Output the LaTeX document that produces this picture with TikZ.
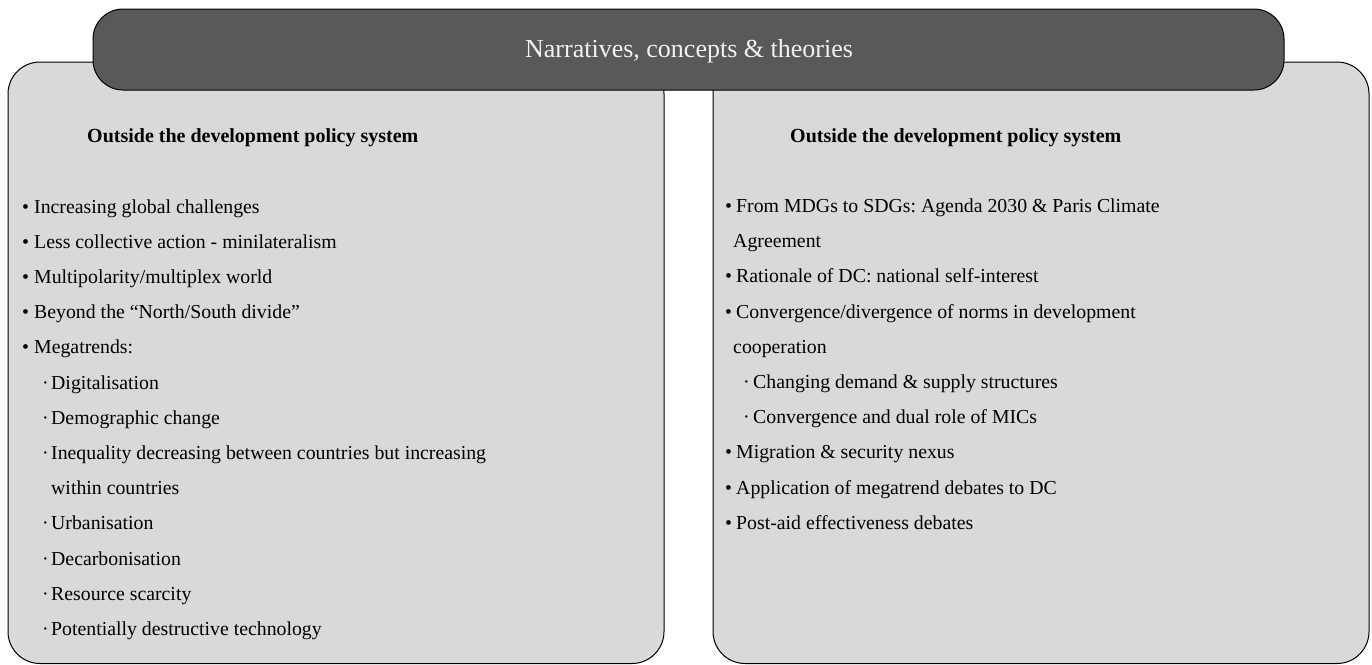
\documentclass[tikz,border=0pt]{standalone}
\usepackage{fontspec}
\setmainfont{Liberation Serif}
\frenchspacing
\definecolor{bardark}{HTML}{595959}
\definecolor{boxgray}{HTML}{D9D9D9}
\definecolor{titletext}{HTML}{F2F2F2}
\begin{document}
\begin{tikzpicture}[x=1pt,y=-1pt,
  panel/.style={draw=black,line width=1pt,fill=boxgray,rounded corners=32pt},
  bar/.style={draw=black,line width=1pt,fill=bardark,rounded corners=30pt},
  txt/.style={anchor=base west,inner sep=0pt,font=\fontsize{19.8pt}{23pt}\selectfont},
  head/.style={anchor=base west,inner sep=0pt,font=\fontsize{20pt}{23pt}\selectfont\bfseries},
  ttl/.style={anchor=base,inner sep=0pt,text=titletext,font=\fontsize{26pt}{30pt}\selectfont}]
\useasboundingbox (0,0) rectangle (1372,664);
\draw[panel] (8,62) rectangle (664,663.5);
\draw[panel] (713,62) rectangle (1369,663.5);
\draw[bar] (93,9) rectangle (1284,90);
\node[ttl] (title) at (689,57) {Narratives, concepts \& theories};
% left panel
\node[head] (lhead) at (87,142) {Outside the development policy system};
\node[txt] (lb1) at (22,213) {•};
\node[txt] (l1) at (34,213) {Increasing global challenges};
\node[txt] (lb2) at (22,248.2) {•};
\node[txt] (l2) at (34,248.2) {Less collective action - minilateralism};
\node[txt] (lb3) at (22,283.4) {•};
\node[txt] (l3) at (34,283.4) {Multipolarity/multiplex world};
\node[txt] (lb4) at (22,318.6) {•};
\node[txt] (l4) at (34,318.6) {Beyond the “North/South divide”};
\node[txt] (lb5) at (22,353.8) {•};
\node[txt] (l5) at (34,353.8) {Megatrends:};
\node[txt] (ld1) at (42,389) {·};
\node[txt] (ls1) at (51,389) {Digitalisation};
\node[txt] (ld2) at (42,424.2) {·};
\node[txt] (ls2) at (51,424.2) {Demographic change};
\node[txt] (ld3) at (42,459.4) {·};
\node[txt] (ls3) at (51,459.4) {Inequality decreasing between countries but increasing};
\node[txt] (ls3b) at (51,494.6) {within countries};
\node[txt] (ld4) at (42,529.8) {·};
\node[txt] (ls4) at (51,529.8) {Urbanisation};
\node[txt] (ld5) at (42,565) {·};
\node[txt] (ls5) at (51,565) {Decarbonisation};
\node[txt] (ld6) at (42,600.2) {·};
\node[txt] (ls6) at (51,600.2) {Resource scarcity};
\node[txt] (ld7) at (42,635.4) {·};
\node[txt] (ls7) at (51,635.4) {Potentially destructive technology};
% right panel
\node[head] (rhead) at (790,142) {Outside the development policy system};
\node[txt] (rb1) at (725,212.5) {•};
\node[txt] (r1) at (736,212.5) {From MDGs to SDGs: Agenda 2030 \& Paris Climate};
\node[txt] (r1b) at (733,247.7) {Agreement};
\node[txt] (rb2) at (725,282.9) {•};
\node[txt] (r2) at (736,282.9) {Rationale of DC: national self-interest};
\node[txt] (rb3) at (725,318.1) {•};
\node[txt] (r3) at (736,318.1) {Convergence/divergence of norms in development};
\node[txt] (r3b) at (733,353.3) {cooperation};
\node[txt] (rd1) at (743,388.5) {·};
\node[txt] (rs1) at (753,388.5) {Changing demand \& supply structures};
\node[txt] (rd2) at (743,423.7) {·};
\node[txt] (rs2) at (753,423.7) {Convergence and dual role of MICs};
\node[txt] (rb4) at (725,458.9) {•};
\node[txt] (r4) at (736,458.9) {Migration \& security nexus};
\node[txt] (rb5) at (725,494.1) {•};
\node[txt] (r5) at (736,494.1) {Application of megatrend debates to DC};
\node[txt] (rb6) at (725,529.3) {•};
\node[txt] (r6) at (736,529.3) {Post-aid effectiveness debates};
\end{tikzpicture}
\end{document}
